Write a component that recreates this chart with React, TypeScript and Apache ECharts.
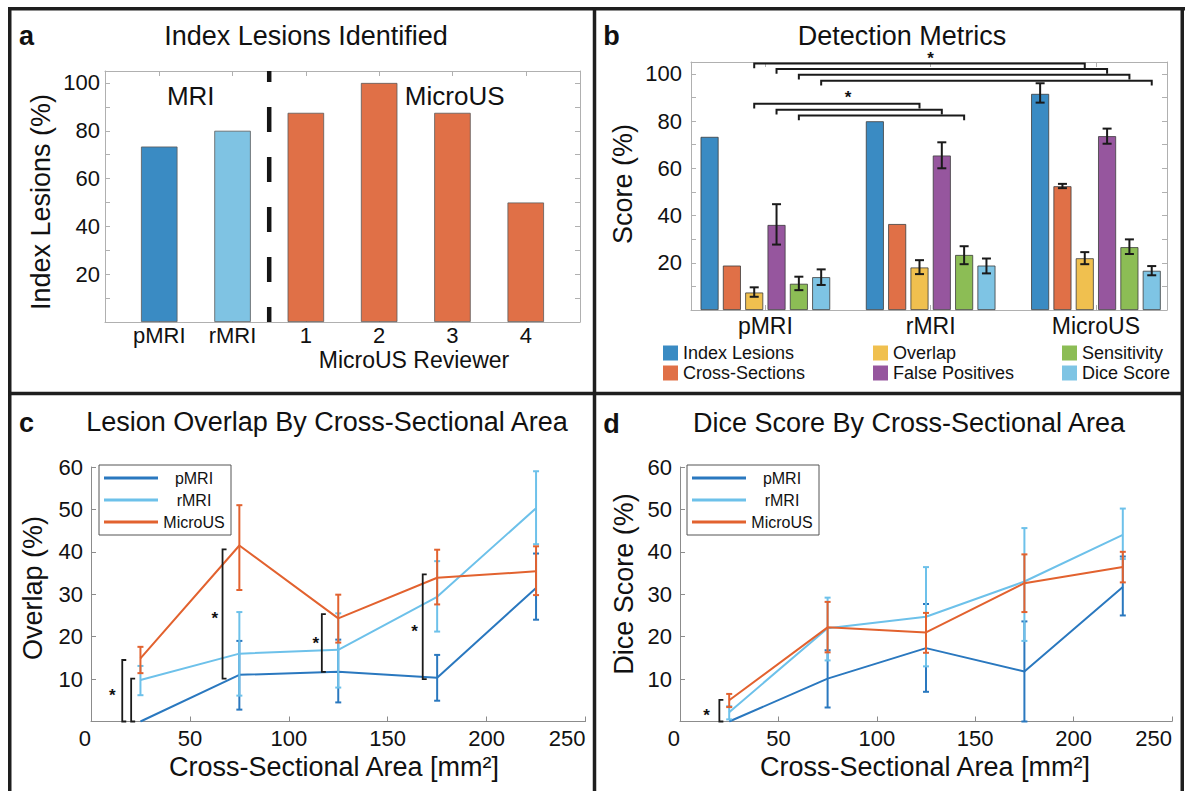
import React, { useEffect, useRef } from 'react';
import * as echarts from 'echarts';

const FONT = "'Liberation Sans', Arial, Helvetica, sans-serif";
const INK = '#111111';
const BOX = '#b0b0b0';
const AXIS_C = '#8c8c8c';

const C_PMRI = '#3a8bc3';
const C_RMRI = '#7fc3e3';
const C_MICRO = '#e07047';
const C_OVERLAP = '#f0c04f';
const C_FP = '#96569e';
const C_SENS = '#8cbd55';
const C_DICE = '#7ec4e4';

const L_PMRI = '#2a78bf';
const L_RMRI = '#6dc1ea';
const L_MICRO = '#e2622f';

// ---------------- Panel a : Index Lesions Identified
const aCategories = ['pMRI', 'rMRI', '1', '2', '3', '4'];
const aValues = [73.4, 80.0, 87.5, 100.0, 87.5, 50.0];
const aKinds = ['pMRI', 'rMRI', 'MicroUS', 'MicroUS', 'MicroUS', 'MicroUS'];
const aDividerAt = 2.5;
const aGroupLabels = [
  { text: 'MRI', x: 1.43, y: 94.5 },
  { text: 'MicroUS', x: 5.03, y: 94.5 },
];

// ---------------- Panel b : Detection Metrics
const bGroups = ['pMRI', 'rMRI', 'MicroUS'];
const bMetrics = ['Index Lesions', 'Cross-Sections', 'Overlap', 'False Positives', 'Sensitivity', 'Dice Score'];
const bIndexLesions = [73.3, 79.9, 91.5];
const bCrossSections = [18.8, 36.4, 52.4];
const bOverlap = [7.4, 18.0, 21.9];
const bFalsePositives = [36.0, 65.4, 73.6];
const bSensitivity = [11.1, 23.3, 26.6];
const bDiceScore = [13.9, 18.8, 16.6];
const bIndexLesionsErr = [null, null, [87.8, 96.0]];
const bCrossSectionsErr = [null, null, [51.6, 53.4]];
const bOverlapErr = [[5.6, 9.6], [15.2, 21.1], [19.4, 24.5]];
const bFalsePositivesErr = [[27.7, 44.8], [60.0, 71.0], [70.4, 76.8]];
const bSensitivityErr = [[8.4, 14.1], [19.4, 27.0], [23.7, 29.9]];
const bDiceScoreErr = [[10.6, 17.2], [15.5, 21.8], [14.7, 18.6]];
// significance brackets: from group, to group (1-based), metric index, height
const bBrackets = [
  { from: 1, to: 3, metric: 2, y: 104.4 },
  { from: 1, to: 3, metric: 3, y: 102.0 },
  { from: 1, to: 3, metric: 4, y: 99.6 },
  { from: 1, to: 3, metric: 5, y: 97.1 },
  { from: 1, to: 2, metric: 2, y: 87.3 },
  { from: 1, to: 2, metric: 3, y: 84.8 },
  { from: 1, to: 2, metric: 4, y: 82.3 },
];
const bStars = [
  { x: 2.0, y: 107.9 },
  { x: 1.5, y: 91.6 },
];

// ---------------- Panels c & d : by cross-sectional area
const areaX = [25, 75, 125, 175, 225];

const cPMRI = [0, 11.0, 11.7, 10.3, 31.5];
const cPMRILow = [0, 2.8, 4.5, 4.9, 24.0];
const cPMRIHigh = [0, 19.0, 19.3, 15.7, 39.6];
const cRMRI = [9.8, 16.0, 16.9, 29.4, 50.3];
const cRMRILow = [6.2, 6.1, 8.0, 21.2, 41.8];
const cRMRIHigh = [13.1, 25.8, 25.5, 37.8, 59.0];
const cMicroUS = [14.9, 41.5, 24.3, 33.9, 35.4];
const cMicroUSLow = [11.4, 31.0, 18.6, 27.6, 29.8];
const cMicroUSHigh = [17.6, 51.0, 29.9, 40.5, 41.3];
const cBrackets = [
  { x: 15.8, y1: 0, y2: 14.5 },
  { x: 20.3, y1: 0, y2: 10.1 },
  { x: 66.5, y1: 10.1, y2: 40.6 },
  { x: 116.7, y1: 11.7, y2: 25.3 },
  { x: 167.7, y1: 10.0, y2: 34.7 },
];
const cStars = [
  { x: 10.8, y: 7.0 },
  { x: 62.6, y: 25.1 },
  { x: 113.6, y: 19.2 },
  { x: 163.6, y: 22.2 },
];

const dPMRI = [0, 10.1, 17.3, 11.8, 31.7];
const dPMRILow = [0, 3.3, 7.0, 0, 25.0];
const dPMRIHigh = [0, 16.8, 27.7, 23.6, 38.9];
const dRMRI = [2.2, 22.0, 24.7, 33.0, 44.0];
const dRMRILow = [0.5, 14.4, 13.0, 19.0, 38.3];
const dRMRIHigh = [3.6, 29.2, 36.4, 45.6, 50.2];
const dMicroUS = [5.0, 22.2, 21.0, 32.6, 36.4];
const dMicroUSLow = [3.4, 16.3, 16.2, 25.8, 32.8];
const dMicroUSHigh = [6.5, 28.2, 25.6, 39.4, 40.0];
const dBrackets = [{ x: 20.0, y1: 0, y2: 5.1 }];
const dStars = [{ x: 13.5, y: 2.4 }];

const lineNames = ['pMRI', 'rMRI', 'MicroUS'];

// ---------------- helpers
const B_BAR_W = 18;
const B_BAR_GAP = 0.24;
const barOffset = (m: number) => (m - (bMetrics.length - 1) / 2) * B_BAR_W * (1 + B_BAR_GAP);

const errRenderer = (color: string, cap: number, width: number, useOffset: boolean) => (params: any, api: any) => {
  const x = api.value(0);
  const lo = api.value(1);
  const hi = api.value(2);
  const dx = useOffset ? barOffset(api.value(3)) : 0;
  const a = api.coord([x, lo]);
  const b = api.coord([x, hi]);
  const cx = a[0] + dx;
  const style = { stroke: color, lineWidth: width };
  return {
    type: 'group',
    children: [
      { type: 'line', shape: { x1: cx, y1: a[1], x2: cx, y2: b[1] }, style },
      { type: 'line', shape: { x1: cx - cap, y1: a[1], x2: cx + cap, y2: a[1] }, style },
      { type: 'line', shape: { x1: cx - cap, y1: b[1], x2: cx + cap, y2: b[1] }, style },
    ],
  };
};

const starRenderer = (size: number) => (params: any, api: any) => {
  const p = api.coord([api.value(0), api.value(1)]);
  return {
    type: 'text',
    x: p[0],
    y: p[1] + size * 0.22,
    style: {
      text: '*',
      fill: INK,
      font: `bold ${size}px ${FONT}`,
      textAlign: 'center',
      textVerticalAlign: 'middle',
      align: 'center',
      verticalAlign: 'middle',
    },
  };
};

const vBracketRenderer = (params: any, api: any) => {
  const x = api.value(0);
  const p1 = api.coord([x, api.value(1)]);
  const p2 = api.coord([x, api.value(2)]);
  return {
    type: 'polyline',
    shape: { points: [[p1[0] + 4, p1[1]], [p1[0], p1[1]], [p2[0], p2[1]], [p2[0] + 4, p2[1]]] },
    style: { stroke: '#1a1a1a', lineWidth: 1.8, fill: 'none' },
  };
};

const errData = (low: number[], high: number[]) =>
  areaX.map((x, i) => [x, low[i], high[i]]).filter((d) => d[2] - d[1] > 0.01);

const tickStyle = (color: string, customValues?: number[]) => ({
  show: true,
  inside: true,
  length: 5,
  lineStyle: { color, width: 1 },
  ...(customValues ? { customValues } : {}),
});

const labelStyle = { fontSize: 22, color: INK, fontFamily: FONT };

const txt = (text: string, x: number, y: number, size: number, opts: any = {}) => ({
  type: 'text',
  x,
  y,
  rotation: opts.rotation || 0,
  style: {
    text,
    fill: INK,
    font: `${opts.bold ? 'bold ' : ''}${size}px ${FONT}`,
    textAlign: 'center',
    textVerticalAlign: 'middle',
    align: 'center',
    verticalAlign: 'middle',
  },
});

function buildOption(): any {
  const aPos = aCategories.map((_, i) => i + 1);
  const bPos = bGroups.map((_, i) => i + 1);
  const kindColor: Record<string, string> = { pMRI: C_PMRI, rMRI: C_RMRI, MicroUS: C_MICRO };
  const bValues = [bIndexLesions, bCrossSections, bOverlap, bFalsePositives, bSensitivity, bDiceScore];
  const bErrs = [bIndexLesionsErr, bCrossSectionsErr, bOverlapErr, bFalsePositivesErr, bSensitivityErr, bDiceScoreErr];
  const bColors = [C_PMRI, C_MICRO, C_OVERLAP, C_FP, C_SENS, C_DICE];

  const bErrData: number[][] = [];
  bErrs.forEach((arr, m) =>
    arr.forEach((e: any, g) => {
      if (e) bErrData.push([g + 1, e[0], e[1], m]);
    })
  );

  const boxAxisX = (
    grid: number,
    min: number,
    max: number,
    pos: number[],
    labels: string[] | null,
    top: boolean,
    size: number,
    margin: number
  ) => ({
    gridIndex: grid,
    type: 'value',
    position: top ? 'top' : 'bottom',
    min,
    max,
    axisLine: { show: true, onZero: false, lineStyle: { color: BOX, width: 1 } },
    axisTick: tickStyle(BOX, pos),
    axisLabel: labels
      ? { ...labelStyle, fontSize: size, margin, customValues: pos, formatter: (v: number) => labels[Math.round(v) - 1] ?? '' }
      : { show: false },
    splitLine: { show: false },
  });
  const boxAxisY = (grid: number, right: boolean, margin: number) => ({
    gridIndex: grid,
    type: 'value',
    position: right ? 'right' : 'left',
    min: 0,
    max: 105,
    interval: 10,
    axisLine: { show: true, onZero: false, lineStyle: { color: BOX, width: 1 } },
    axisTick: tickStyle(BOX),
    axisLabel: right
      ? { show: false }
      : { ...labelStyle, margin, formatter: (v: number) => (v > 0 && v % 20 === 0 ? String(v) : '') },
    splitLine: { show: false },
  });
  const areaAxisX = (grid: number) => ({
    gridIndex: grid,
    type: 'value',
    min: 0,
    max: 250,
    interval: 50,
    axisLine: { show: true, onZero: false, lineStyle: { color: AXIS_C, width: 1 } },
    axisTick: tickStyle(AXIS_C),
    axisLabel: { ...labelStyle, margin: 6, alignMinLabel: 'right', alignMaxLabel: 'right' },
    splitLine: { show: false },
  });
  const areaAxisY = (grid: number) => ({
    gridIndex: grid,
    type: 'value',
    min: 0,
    max: 60,
    interval: 10,
    axisLine: { show: true, onZero: false, lineStyle: { color: AXIS_C, width: 1 } },
    axisTick: tickStyle(AXIS_C),
    axisLabel: { ...labelStyle, margin: 8, formatter: (v: number) => (v === 0 ? '' : String(v)) },
    splitLine: { show: false },
  });

  const series: any[] = [];

  // ---- panel a
  series.push({
    name: 'Index Lesions Identified',
    type: 'bar',
    xAxisIndex: 0,
    yAxisIndex: 0,
    barWidth: 36.5,
    data: aValues.map((v, i) => ({ value: [i + 1, v], itemStyle: { color: kindColor[aKinds[i]] } })),
    itemStyle: { borderColor: '#5a5a5a', borderWidth: 0.8 },
  });
  series.push({
    name: 'a-divider',
    type: 'custom',
    xAxisIndex: 0,
    yAxisIndex: 0,
    data: [[aDividerAt]],
    renderItem: (params: any, api: any) => {
      const top = api.coord([api.value(0), 105]);
      const bottom = api.coord([api.value(0), 0]);
      return {
        type: 'line',
        shape: { x1: top[0], y1: top[1], x2: bottom[0], y2: bottom[1] },
        style: { stroke: '#151515', lineWidth: 4.5, lineDash: [25, 25], lineDashOffset: 14 },
      };
    },
  });
  series.push({
    name: 'a-labels',
    type: 'custom',
    xAxisIndex: 0,
    yAxisIndex: 0,
    data: aGroupLabels.map((g) => [g.x, g.y]),
    renderItem: (params: any, api: any) => {
      const p = api.coord([api.value(0), api.value(1)]);
      return {
        type: 'text',
        x: p[0],
        y: p[1],
        style: {
          text: aGroupLabels[params.dataIndex].text,
          fill: INK,
          font: `26px ${FONT}`,
          textAlign: 'center',
          textVerticalAlign: 'middle',
          align: 'center',
          verticalAlign: 'middle',
        },
      };
    },
  });

  // ---- panel b
  bMetrics.forEach((name, m) => {
    series.push({
      name,
      type: 'bar',
      xAxisIndex: 2,
      yAxisIndex: 2,
      barWidth: B_BAR_W,
      barGap: `${B_BAR_GAP * 100}%`,
      data: bValues[m].map((v, g) => [g + 1, v]),
      itemStyle: { color: bColors[m], borderColor: '#3c3c3c', borderWidth: 0.8 },
    });
  });
  series.push({
    name: 'b-errors',
    type: 'custom',
    xAxisIndex: 2,
    yAxisIndex: 2,
    data: bErrData,
    renderItem: errRenderer('#1a1a1a', 4.5, 2, true),
    z: 5,
  });
  series.push({
    name: 'b-brackets',
    type: 'custom',
    xAxisIndex: 2,
    yAxisIndex: 2,
    clip: false,
    data: bBrackets.map((b) => [b.from, b.y, b.to, b.metric]),
    renderItem: (params: any, api: any) => {
      const from = api.value(0);
      const y = api.value(1);
      const to = api.value(2);
      const dx = barOffset(api.value(3));
      const p1 = api.coord([from, y]);
      const p2 = api.coord([to, y]);
      const drop = api.coord([from, y - 2])[1];
      return {
        type: 'polyline',
        shape: { points: [[p1[0] + dx, drop], [p1[0] + dx, p1[1]], [p2[0] + dx, p2[1]], [p2[0] + dx, drop]] },
        style: { stroke: '#1a1a1a', lineWidth: 2, fill: 'none' },
      };
    },
  });
  series.push({
    name: 'b-stars',
    type: 'custom',
    xAxisIndex: 2,
    yAxisIndex: 2,
    clip: false,
    data: bStars.map((s) => [s.x, s.y]),
    renderItem: starRenderer(17),
  });

  // ---- panels c & d
  const addArea = (
    xi: number,
    vals: number[][],
    lows: number[][],
    highs: number[][],
    brackets: any[],
    stars: any[],
    tag: string
  ) => {
    const cols = [L_PMRI, L_RMRI, L_MICRO];
    lineNames.forEach((name, k) => {
      series.push({
        name: `${tag}-err-${name}`,
        type: 'custom',
        xAxisIndex: xi,
        yAxisIndex: xi,
        data: errData(lows[k], highs[k]),
        renderItem: errRenderer(cols[k], 3, 2, false),
        z: 2 + k,
      });
      series.push({
        name,
        type: 'line',
        xAxisIndex: xi,
        yAxisIndex: xi,
        symbol: 'none',
        data: areaX.map((x, i) => [x, vals[k][i]]),
        lineStyle: { color: cols[k], width: 2 },
        itemStyle: { color: cols[k] },
        z: 2 + k,
      });
    });
    series.push({
      name: `${tag}-brackets`,
      type: 'custom',
      xAxisIndex: xi,
      yAxisIndex: xi,
      clip: false,
      data: brackets.map((b) => [b.x, b.y1, b.y2]),
      renderItem: vBracketRenderer,
      z: 6,
    });
    series.push({
      name: `${tag}-stars`,
      type: 'custom',
      xAxisIndex: xi,
      yAxisIndex: xi,
      clip: false,
      data: stars.map((s) => [s.x, s.y]),
      renderItem: starRenderer(17),
      z: 6,
    });
  };
  addArea(4, [cPMRI, cRMRI, cMicroUS], [cPMRILow, cRMRILow, cMicroUSLow], [cPMRIHigh, cRMRIHigh, cMicroUSHigh], cBrackets, cStars, 'c');
  addArea(5, [dPMRI, dRMRI, dMicroUS], [dPMRILow, dRMRILow, dMicroUSLow], [dPMRIHigh, dRMRIHigh, dMicroUSHigh], dBrackets, dStars, 'd');

  const bLegend = (names: string[], left: number) => ({
    data: names,
    orient: 'vertical',
    left,
    top: 344,
    padding: 0,
    icon: 'rect',
    itemWidth: 15,
    itemHeight: 15,
    itemGap: 2,
    selectedMode: false,
    itemStyle: { borderWidth: 0 },
    textStyle: { fontSize: 18, lineHeight: 17, color: INK, fontFamily: FONT },
  });
  const areaLegend = (left: number) => ({
    data: lineNames,
    orient: 'vertical',
    left,
    top: 465,
    padding: [5, 6, 5, 5],
    icon: 'rect',
    itemWidth: 54,
    itemHeight: 3,
    itemGap: 6,
    selectedMode: false,
    backgroundColor: '#fff',
    borderColor: '#555',
    borderWidth: 1,
    borderRadius: 0,
    formatter: (name: string) => `{c|${name}}`,
    textStyle: {
      fontSize: 16,
      color: INK,
      fontFamily: FONT,
      rich: { c: { width: 62, align: 'center', fontSize: 16, lineHeight: 19, color: INK, fontFamily: FONT } },
    },
  });

  const border = (x: number, y: number, w: number, h: number) => ({
    type: 'rect',
    shape: { x, y, width: w, height: h },
    style: { fill: '#1e1e1e' },
  });

  return {
    animation: false,
    backgroundColor: '#ffffff',
    grid: [
      { left: 105, top: 71, width: 475, height: 251 },
      { left: 691, top: 62, width: 476, height: 248 },
      { left: 91, top: 467, width: 494.5, height: 254.5 },
      { left: 680, top: 467, width: 492, height: 254.5 },
    ],
    xAxis: [
      boxAxisX(0, 0.26, 6.74, aPos, aCategories, false, 22, 2),
      boxAxisX(0, 0.26, 6.74, aPos, null, true, 22, 2),
      boxAxisX(1, 0.55, 3.43, bPos, bGroups, false, 23, 4),
      boxAxisX(1, 0.55, 3.43, bPos, null, true, 23, 4),
      areaAxisX(2),
      areaAxisX(3),
    ],
    yAxis: [
      boxAxisY(0, false, 5),
      boxAxisY(0, true, 5),
      boxAxisY(1, false, 9),
      boxAxisY(1, true, 9),
      areaAxisY(2),
      areaAxisY(3),
    ],
    legend: [
      bLegend([bMetrics[0], bMetrics[1]], 663),
      bLegend([bMetrics[2], bMetrics[3]], 873),
      bLegend([bMetrics[4], bMetrics[5]], 1062),
      areaLegend(99),
      areaLegend(687),
    ],
    graphic: [
      border(8, 7, 3.5, 790),
      border(8, 7, 1177, 3.5),
      border(1180.5, 7, 3.5, 790),
      border(592.75, 7, 3.5, 790),
      border(8, 391.75, 1176, 3.5),
      txt('a', 26.5, 36, 27, { bold: true }),
      txt('b', 611.5, 36, 27, { bold: true }),
      txt('c', 26.5, 423, 27, { bold: true }),
      txt('d', 611.5, 424, 27, { bold: true }),
      txt('Index Lesions Identified', 306, 36, 27),
      txt('Detection Metrics', 902, 36, 27),
      txt('Lesion Overlap By Cross-Sectional Area', 327, 422, 27),
      txt('Dice Score By Cross-Sectional Area', 909, 423, 27),
      txt('Index Lesions (%)', 41, 202, 27, { rotation: Math.PI / 2 }),
      txt('MicroUS Reviewer', 414, 360, 23),
      txt('Score (%)', 623, 184, 27, { rotation: Math.PI / 2 }),
      txt('Overlap (%)', 33, 588, 27, { rotation: Math.PI / 2 }),
      txt('Cross-Sectional Area [mm²]', 334, 767, 27),
      txt('Dice Score (%)', 624, 584, 27, { rotation: Math.PI / 2 }),
      txt('Cross-Sectional Area [mm²]', 925, 767, 27),
    ],
    series,
  };
}

export default function App() {
  const ref = useRef<HTMLDivElement>(null);
  useEffect(() => {
    if (!ref.current) return;
    const chart = echarts.init(ref.current, undefined, { renderer: 'svg' });
    chart.setOption(buildOption());
    return () => chart.dispose();
  }, []);
  return (
    <div
      ref={ref}
      style={{ position: 'absolute', left: 0, top: 0, width: 1194, height: 791, background: '#fff' }}
    />
  );
}
